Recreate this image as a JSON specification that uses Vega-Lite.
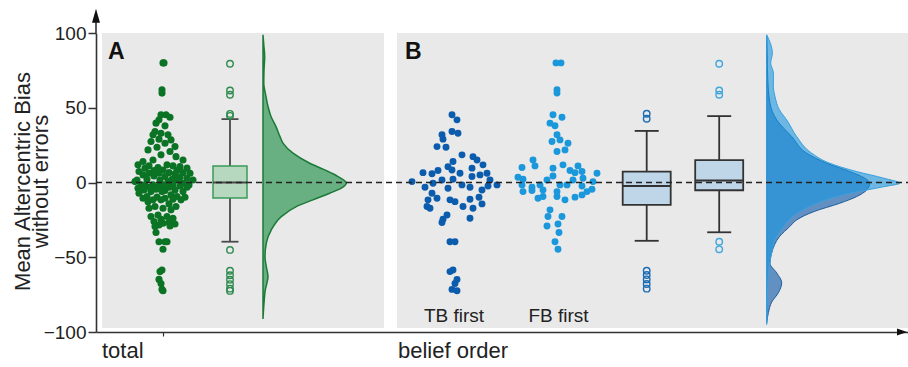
{
  "$schema": "https://vega.github.io/schema/vega-lite/v6.json",
  "width": 812,
  "height": 299,
  "autosize": {"type": "none"},
  "padding": {"left": 96, "top": 33, "right": 0, "bottom": 35},
  "background": "white",
  "config": {
    "view": {"stroke": null},
    "axis": {"grid": false, "labelFont": "Liberation Sans", "titleFont": "Liberation Sans"},
    "text": {"font": "Liberation Sans"}
  },
  "resolve": {"scale": {"x": "independent"}, "axis": {"x": "independent", "y": "independent"}},
  "datasets": {
    "pts": [
      {"g":"total","dx":0,"v":80},{"g":"total","dx":1,"v":80},{"g":"total","dx":-1,"v":62},{"g":"total","dx":-1,"v":59.8},{"g":"total","dx":-2,"v":45.3},{"g":"total","dx":3,"v":45.3},{"g":"total","dx":7,"v":43.7},{"g":"total","dx":-4,"v":41.9},{"g":"total","dx":-7,"v":39.7},{"g":"total","dx":2,"v":37.9},{"g":"total","dx":-8,"v":34.1},{"g":"total","dx":-2,"v":33},{"g":"total","dx":5,"v":31.9},{"g":"total","dx":-10,"v":31.9},{"g":"total","dx":-4,"v":29},{"g":"total","dx":8,"v":28.5},{"g":"total","dx":-12,"v":27.4},{"g":"total","dx":2,"v":26.3},{"g":"total","dx":12,"v":24},{"g":"total","dx":-6,"v":23.6},{"g":"total","dx":-15,"v":21.8},{"g":"total","dx":7,"v":20.7},{"g":"total","dx":-2,"v":18.5},{"g":"total","dx":13,"v":17.3},{"g":"total","dx":-10,"v":15.1},{"g":"total","dx":20,"v":15.1},{"g":"total","dx":-20,"v":14},{"g":"total","dx":4,"v":11.8},{"g":"total","dx":-25,"v":11.8},{"g":"total","dx":10,"v":11.1},{"g":"total","dx":-14,"v":11.1},{"g":"total","dx":17,"v":10.6},{"g":"total","dx":-5,"v":10},{"g":"total","dx":24,"v":9.6},{"g":"total","dx":-18,"v":9.6},{"g":"total","dx":0,"v":8.4},{"g":"total","dx":-9,"v":8},{"g":"total","dx":14,"v":8},{"g":"total","dx":-24,"v":7.3},{"g":"total","dx":6,"v":6.6},{"g":"total","dx":20,"v":6.6},{"g":"total","dx":-14,"v":6.2},{"g":"total","dx":27,"v":6.2},{"g":"total","dx":-4,"v":6.2},{"g":"total","dx":12,"v":5.8},{"g":"total","dx":-20,"v":5.1},{"g":"total","dx":2,"v":4},{"g":"total","dx":-9,"v":4.4},{"g":"total","dx":17,"v":3.5},{"g":"total","dx":24,"v":2.9},{"g":"total","dx":-16,"v":2.2},{"g":"total","dx":9,"v":2.2},{"g":"total","dx":-26,"v":1.7},{"g":"total","dx":30,"v":1.7},{"g":"total","dx":-3,"v":1.7},{"g":"total","dx":14,"v":1.7},{"g":"total","dx":-28,"v":0.6},{"g":"total","dx":5,"v":0.6},{"g":"total","dx":20,"v":-0.5},{"g":"total","dx":-22,"v":-1.6},{"g":"total","dx":-10,"v":-1.6},{"g":"total","dx":0,"v":-1.6},{"g":"total","dx":10,"v":-1.6},{"g":"total","dx":26,"v":-1.6},{"g":"total","dx":-18,"v":-1.6},{"g":"total","dx":-4,"v":-2.3},{"g":"total","dx":17,"v":-2.3},{"g":"total","dx":-13,"v":-3.2},{"g":"total","dx":6,"v":-3.2},{"g":"total","dx":24,"v":-3.2},{"g":"total","dx":-25,"v":-3.8},{"g":"total","dx":-7,"v":-4.5},{"g":"total","dx":12,"v":-5},{"g":"total","dx":-19,"v":-5},{"g":"total","dx":2,"v":-5.4},{"g":"total","dx":-12,"v":-6.1},{"g":"total","dx":20,"v":-6.1},{"g":"total","dx":-1,"v":-6.1},{"g":"total","dx":-24,"v":-7.2},{"g":"total","dx":8,"v":-8.3},{"g":"total","dx":-16,"v":-9.4},{"g":"total","dx":14,"v":-9.4},{"g":"total","dx":-6,"v":-9.8},{"g":"total","dx":22,"v":-9.9},{"g":"total","dx":2,"v":-10.5},{"g":"total","dx":-20,"v":-10.5},{"g":"total","dx":10,"v":-11.2},{"g":"total","dx":-10,"v":-11.6},{"g":"total","dx":18,"v":-11.6},{"g":"total","dx":-2,"v":-11.6},{"g":"total","dx":-15,"v":-12.8},{"g":"total","dx":6,"v":-14.3},{"g":"total","dx":-8,"v":-16.1},{"g":"total","dx":13,"v":-16.1},{"g":"total","dx":-14,"v":-17.2},{"g":"total","dx":0,"v":-17.2},{"g":"total","dx":8,"v":-18.3},{"g":"total","dx":-5,"v":-21.7},{"g":"total","dx":4,"v":-22.8},{"g":"total","dx":-12,"v":-22.8},{"g":"total","dx":10,"v":-23.9},{"g":"total","dx":-2,"v":-24.6},{"g":"total","dx":-9,"v":-26.1},{"g":"total","dx":6,"v":-26.8},{"g":"total","dx":0,"v":-27.3},{"g":"total","dx":12,"v":-27.7},{"g":"total","dx":-4,"v":-28.4},{"g":"total","dx":7,"v":-29.1},{"g":"total","dx":-8,"v":-29.5},{"g":"total","dx":-7,"v":-33.5},{"g":"total","dx":-4,"v":-39.6},{"g":"total","dx":2,"v":-39.6},{"g":"total","dx":4,"v":-39.6},{"g":"total","dx":0,"v":-44.7},{"g":"total","dx":-1,"v":-58.5},{"g":"total","dx":-3,"v":-59.6},{"g":"total","dx":-4,"v":-64.8},{"g":"total","dx":-2,"v":-67.5},{"g":"total","dx":-1,"v":-71.5},{"g":"total","dx":0,"v":-72.4},
      {"g":"TB","dx":-1,"v":45.3},{"g":"TB","dx":4,"v":41.9},{"g":"TB","dx":-1,"v":34.1},{"g":"TB","dx":5,"v":33},{"g":"TB","dx":-11,"v":31.9},{"g":"TB","dx":-10,"v":29},{"g":"TB","dx":-16,"v":24},{"g":"TB","dx":-7,"v":23.6},{"g":"TB","dx":9,"v":18.5},{"g":"TB","dx":20,"v":17.3},{"g":"TB","dx":24,"v":15.1},{"g":"TB","dx":0,"v":14},{"g":"TB","dx":30,"v":11.8},{"g":"TB","dx":-5,"v":10.6},{"g":"TB","dx":-15,"v":8},{"g":"TB","dx":-1,"v":8.4},{"g":"TB","dx":19,"v":9.6},{"g":"TB","dx":-30,"v":6.6},{"g":"TB","dx":-21,"v":5.8},{"g":"TB","dx":7,"v":6.2},{"g":"TB","dx":27,"v":5.1},{"g":"TB","dx":34,"v":6.2},{"g":"TB","dx":19,"v":4},{"g":"TB","dx":-11,"v":1.7},{"g":"TB","dx":0,"v":2.2},{"g":"TB","dx":-41,"v":0.6},{"g":"TB","dx":37,"v":1.7},{"g":"TB","dx":44,"v":-1.6},{"g":"TB","dx":-20,"v":-0.5},{"g":"TB","dx":-28,"v":-3.2},{"g":"TB","dx":-5,"v":-3.8},{"g":"TB","dx":9,"v":-1.6},{"g":"TB","dx":17,"v":-3.2},{"g":"TB","dx":35,"v":-2.3},{"g":"TB","dx":29,"v":-5},{"g":"TB","dx":-21,"v":-7.2},{"g":"TB","dx":-25,"v":-11.6},{"g":"TB","dx":-16,"v":-10.5},{"g":"TB","dx":-3,"v":-11.6},{"g":"TB","dx":2,"v":-12.8},{"g":"TB","dx":17,"v":-11.2},{"g":"TB","dx":26,"v":-9.9},{"g":"TB","dx":-26,"v":-16.1},{"g":"TB","dx":-23,"v":-17.2},{"g":"TB","dx":10,"v":-16.1},{"g":"TB","dx":20,"v":-17.2},{"g":"TB","dx":29,"v":-14.3},{"g":"TB","dx":-6,"v":-21.7},{"g":"TB","dx":17,"v":-23.9},{"g":"TB","dx":-11,"v":-26.8},{"g":"TB","dx":-10,"v":-24.6},{"g":"TB","dx":-3,"v":-39.6},{"g":"TB","dx":2,"v":-39.6},{"g":"TB","dx":-3,"v":-59.6},{"g":"TB","dx":0,"v":-58.5},{"g":"TB","dx":4,"v":-64.8},{"g":"TB","dx":2,"v":-67.5},{"g":"TB","dx":-1,"v":-71.5},{"g":"TB","dx":4,"v":-72.4},
      {"g":"FB","dx":-2,"v":80},{"g":"FB","dx":3,"v":80},{"g":"FB","dx":-1,"v":62},{"g":"FB","dx":-1,"v":59.8},{"g":"FB","dx":-5,"v":45.3},{"g":"FB","dx":4,"v":43.7},{"g":"FB","dx":-8,"v":39.7},{"g":"FB","dx":-3,"v":37.9},{"g":"FB","dx":-1,"v":31.9},{"g":"FB","dx":-6,"v":27.4},{"g":"FB","dx":2,"v":28.5},{"g":"FB","dx":10,"v":26.3},{"g":"FB","dx":-1,"v":20.7},{"g":"FB","dx":7,"v":21.8},{"g":"FB","dx":-25,"v":15.1},{"g":"FB","dx":-23,"v":11.1},{"g":"FB","dx":-36,"v":10},{"g":"FB","dx":-5,"v":9.6},{"g":"FB","dx":5,"v":11.8},{"g":"FB","dx":20,"v":11.1},{"g":"FB","dx":12,"v":8},{"g":"FB","dx":17,"v":6.6},{"g":"FB","dx":24,"v":7.3},{"g":"FB","dx":39,"v":6.2},{"g":"FB","dx":-40,"v":3.5},{"g":"FB","dx":-35,"v":2.2},{"g":"FB","dx":-11,"v":1.7},{"g":"FB","dx":-5,"v":4.4},{"g":"FB","dx":15,"v":1.7},{"g":"FB","dx":25,"v":2.9},{"g":"FB","dx":35,"v":0.6},{"g":"FB","dx":-36,"v":-1.6},{"g":"FB","dx":-26,"v":-3.2},{"g":"FB","dx":-18,"v":-1.6},{"g":"FB","dx":2,"v":-1.6},{"g":"FB","dx":9,"v":-1.6},{"g":"FB","dx":24,"v":-2.3},{"g":"FB","dx":34,"v":-4.5},{"g":"FB","dx":-35,"v":-6.1},{"g":"FB","dx":-26,"v":-5.4},{"g":"FB","dx":-15,"v":-5},{"g":"FB","dx":-1,"v":-6.1},{"g":"FB","dx":29,"v":-6.1},{"g":"FB","dx":24,"v":-8.3},{"g":"FB","dx":17,"v":-9.8},{"g":"FB","dx":-20,"v":-10.5},{"g":"FB","dx":-15,"v":-9.4},{"g":"FB","dx":-1,"v":-9.4},{"g":"FB","dx":7,"v":-11.6},{"g":"FB","dx":-8,"v":-18.3},{"g":"FB","dx":-10,"v":-22.8},{"g":"FB","dx":4,"v":-22.8},{"g":"FB","dx":-11,"v":-29.1},{"g":"FB","dx":0,"v":-27.7},{"g":"FB","dx":1,"v":-33.5},{"g":"FB","dx":-3,"v":-39.6},{"g":"FB","dx":0,"v":-44.7}
    ],
    "box": [
      {"g":"total","lo":-39.6,"q1":-10.4,"med":0,"q3":11,"hi":42.4},
      {"g":"TB","lo":-39,"q1":-15,"med":-2.3,"q3":7.3,"hi":34.5},
      {"g":"FB","lo":-33.3,"q1":-5.2,"med":1.3,"q3":14.9,"hi":44.4}
    ],
    "out": [
      {"g":"total","v":79.4},{"g":"total","v":61.5},{"g":"total","v":58.7},{"g":"total","v":45.9},{"g":"total","v":44.6},{"g":"total","v":-45.1},{"g":"total","v":-59},{"g":"total","v":-62},{"g":"total","v":-65},{"g":"total","v":-68},{"g":"total","v":-71},{"g":"total","v":-72.5},
      {"g":"TB","v":46},{"g":"TB","v":42.6},{"g":"TB","v":-59},{"g":"TB","v":-61.9},{"g":"TB","v":-64.8},{"g":"TB","v":-67.9},{"g":"TB","v":-71},
      {"g":"FB","v":79.4},{"g":"FB","v":61.5},{"g":"FB","v":58.7},{"g":"FB","v":-39.6},{"g":"FB","v":-44.7}
    ],
    "dens": [
      {"g":"total","v":98.8,"d":0},{"g":"total","v":92,"d":0.8},{"g":"total","v":84.3,"d":1.7},{"g":"total","v":75,"d":1},{"g":"total","v":66.5,"d":0.8},{"g":"total","v":57.5,"d":3},{"g":"total","v":50.8,"d":5},{"g":"total","v":44.1,"d":8},{"g":"total","v":37.4,"d":13},{"g":"total","v":30.7,"d":17},{"g":"total","v":26.3,"d":20},{"g":"total","v":19.6,"d":30},{"g":"total","v":12.9,"d":46.7},{"g":"total","v":8.4,"d":61.7},{"g":"total","v":4,"d":75},{"g":"total","v":-0.3,"d":83.3},{"g":"total","v":-3.8,"d":78.3},{"g":"total","v":-7.2,"d":66.7},{"g":"total","v":-11.6,"d":50},{"g":"total","v":-16.1,"d":33.3},{"g":"total","v":-22.8,"d":18.3},{"g":"total","v":-31.7,"d":8.3},{"g":"total","v":-40.6,"d":3.3},{"g":"total","v":-49.6,"d":2},{"g":"total","v":-56.3,"d":3.3},{"g":"total","v":-63,"d":5},{"g":"total","v":-67,"d":4},{"g":"total","v":-71.9,"d":2.3},{"g":"total","v":-80.8,"d":1},{"g":"total","v":-91.3,"d":0},
      {"g":"TB","v":97.5,"d":0},{"g":"TB","v":85,"d":0.5},{"g":"TB","v":70,"d":1},{"g":"TB","v":53,"d":3.3},{"g":"TB","v":41.9,"d":10},{"g":"TB","v":30.7,"d":25},{"g":"TB","v":19.6,"d":40},{"g":"TB","v":12.9,"d":60},{"g":"TB","v":7.3,"d":83},{"g":"TB","v":2.9,"d":98},{"g":"TB","v":-0.5,"d":103},{"g":"TB","v":-5,"d":100},{"g":"TB","v":-9.4,"d":90},{"g":"TB","v":-13.9,"d":73},{"g":"TB","v":-19.5,"d":47},{"g":"TB","v":-25,"d":30},{"g":"TB","v":-29.5,"d":23},{"g":"TB","v":-36,"d":13},{"g":"TB","v":-47,"d":5},{"g":"TB","v":-54,"d":3.3},{"g":"TB","v":-60.5,"d":10},{"g":"TB","v":-67,"d":15},{"g":"TB","v":-73.7,"d":11.7},{"g":"TB","v":-80,"d":5},{"g":"TB","v":-87,"d":1.7},{"g":"TB","v":-93.7,"d":0},
      {"g":"FB","v":98.8,"d":0},{"g":"FB","v":86.6,"d":5.7},{"g":"FB","v":79.9,"d":4},{"g":"FB","v":73.2,"d":6.7},{"g":"FB","v":64.2,"d":6.7},{"g":"FB","v":57.5,"d":8.3},{"g":"FB","v":48.6,"d":12.7},{"g":"FB","v":41.9,"d":20},{"g":"FB","v":30.7,"d":30},{"g":"FB","v":19.6,"d":45},{"g":"FB","v":12.9,"d":63},{"g":"FB","v":7.3,"d":90},{"g":"FB","v":2.9,"d":117},{"g":"FB","v":-0.5,"d":133},{"g":"FB","v":-2.7,"d":118},{"g":"FB","v":-5,"d":100},{"g":"FB","v":-7.2,"d":83},{"g":"FB","v":-9.4,"d":70},{"g":"FB","v":-13.9,"d":50},{"g":"FB","v":-19.5,"d":33},{"g":"FB","v":-25,"d":22},{"g":"FB","v":-29.5,"d":17},{"g":"FB","v":-36,"d":10},{"g":"FB","v":-47,"d":5},{"g":"FB","v":-55,"d":2.7},{"g":"FB","v":-70,"d":1},{"g":"FB","v":-85,"d":0.5},{"g":"FB","v":-95,"d":0}
    ]
  },
  "layer": [
    {
      "data": {"values": [{}]},
      "mark": {"type": "rect", "fill": "#e9e9e9"},
      "encoding": {
        "x": {"datum": 6, "type": "quantitative", "scale": {"domain": [0, 812], "nice": false, "zero": false},
              "axis": {"values": [67], "labels": false, "title": null, "domainColor": "#333", "domainWidth": 1.6, "tickColor": "#333", "tickSize": 4, "tickWidth": 1.2}},
        "x2": {"datum": 288},
        "y": {"datum": 100, "type": "quantitative", "scale": {"domain": [-100, 100], "nice": false, "zero": false},
              "axis": {"values": [-100, -50, 0, 50, 100], "title": ["Mean Altercentric Bias", "without errors"],
                       "labelFontSize": 19, "labelColor": "#222", "labelPadding": 2, "tickSize": 8, "tickColor": "#333", "tickWidth": 1.5,
                       "domainColor": "#333", "domainWidth": 1.6, "titleFontSize": 22, "titleFontWeight": "normal", "titleColor": "#222",
                       "titleLineHeight": 18, "titleX": -74, "titleY": 148, "titleBaseline": "middle", "titleAlign": "center", "titleAngle": -90}},
        "y2": {"datum": -97.4}
      }
    },
    {
      "data": {"values": [{}]},
      "mark": {"type": "rect", "fill": "#e9e9e9"},
      "encoding": {
        "x": {"datum": 301, "type": "quantitative", "scale": {"domain": [0, 812], "nice": false, "zero": false}, "axis": null},
        "x2": {"datum": 812},
        "y": {"datum": 100, "type": "quantitative", "scale": {"domain": [-100, 100], "nice": false, "zero": false}, "axis": null},
        "y2": {"datum": -97.4}
      }
    },
    {
      "data": {"name": "dens"},
      "transform": [{"filter": {"field": "g", "equal": "total"}}],
      "mark": {"type": "area", "orient": "horizontal", "interpolate": "monotone", "fill": "#128a3c", "fillOpacity": 0.6, "stroke": "#1b7a37", "strokeWidth": 1.5},
      "encoding": {
        "y": {"field": "v", "type": "quantitative", "scale": {"domain": [-100, 100], "nice": false, "zero": false}, "axis": null},
        "x": {"field": "d", "type": "quantitative", "stack": null, "scale": {"domain": [-167, 645], "nice": false, "zero": false}, "axis": null},
        "x2": {"datum": 0}
      }
    },
    {
      "data": {"name": "dens"},
      "transform": [{"filter": {"field": "g", "equal": "TB"}}],
      "mark": {"type": "area", "orient": "horizontal", "interpolate": "monotone", "fill": "#0a55a8", "fillOpacity": 0.6, "stroke": "#1a5c9c", "strokeWidth": 1},
      "encoding": {
        "y": {"field": "v", "type": "quantitative", "scale": {"domain": [-100, 100], "nice": false, "zero": false}, "axis": null},
        "x": {"field": "d", "type": "quantitative", "stack": null, "scale": {"domain": [-670.7, 141.3], "nice": false, "zero": false}, "axis": null},
        "x2": {"datum": 0}
      }
    },
    {
      "data": {"name": "dens"},
      "transform": [{"filter": {"field": "g", "equal": "FB"}}],
      "mark": {"type": "area", "orient": "horizontal", "interpolate": "monotone", "fill": "#1996e0", "fillOpacity": 0.6, "stroke": "#3aa0de", "strokeWidth": 1},
      "encoding": {
        "y": {"field": "v", "type": "quantitative", "scale": {"domain": [-100, 100], "nice": false, "zero": false}, "axis": null},
        "x": {"field": "d", "type": "quantitative", "stack": null, "scale": {"domain": [-670.7, 141.3], "nice": false, "zero": false}, "axis": null},
        "x2": {"datum": 0}
      }
    },
    {
      "data": {"name": "pts"},
      "transform": [{"filter": {"field": "g", "equal": "total"}}],
      "mark": {"type": "circle", "size": 50, "opacity": 1, "color": "#0b7324"},
      "encoding": {
        "x": {"field": "dx", "type": "quantitative", "scale": {"domain": [-67, 745], "nice": false, "zero": false}, "axis": null},
        "y": {"field": "v", "type": "quantitative", "scale": {"domain": [-100, 100], "nice": false, "zero": false}, "axis": null}
      }
    },
    {
      "data": {"name": "pts"},
      "transform": [{"filter": {"field": "g", "equal": "TB"}}],
      "mark": {"type": "circle", "size": 48, "opacity": 1, "color": "#0c5cae"},
      "encoding": {
        "x": {"field": "dx", "type": "quantitative", "scale": {"domain": [-357, 455], "nice": false, "zero": false}, "axis": null},
        "y": {"field": "v", "type": "quantitative", "scale": {"domain": [-100, 100], "nice": false, "zero": false}, "axis": null}
      }
    },
    {
      "data": {"name": "pts"},
      "transform": [{"filter": {"field": "g", "equal": "FB"}}],
      "mark": {"type": "circle", "size": 48, "opacity": 1, "color": "#1b98dc"},
      "encoding": {
        "x": {"field": "dx", "type": "quantitative", "scale": {"domain": [-462, 350], "nice": false, "zero": false}, "axis": null},
        "y": {"field": "v", "type": "quantitative", "scale": {"domain": [-100, 100], "nice": false, "zero": false}, "axis": null}
      }
    },
    {
      "data": {"name": "box"},
      "transform": [{"filter": {"field": "g", "equal": "total"}}],
      "mark": {"type": "rule", "color": "#4a4a4a", "strokeWidth": 1.8},
      "encoding": {
        "x": {"datum": 134, "type": "quantitative", "scale": {"domain": [0, 812], "nice": false, "zero": false}, "axis": null},
        "y": {"field": "lo", "type": "quantitative", "scale": {"domain": [-100, 100], "nice": false, "zero": false}, "axis": null},
        "y2": {"field": "hi"}
      }
    },
    {
      "data": {"name": "box"},
      "transform": [{"filter": {"field": "g", "equal": "total"}}, {"fold": ["lo", "hi"], "as": ["k", "cv"]}],
      "mark": {"type": "rule", "color": "#4a4a4a", "strokeWidth": 1.8},
      "encoding": {
        "x": {"datum": 125.5, "type": "quantitative", "scale": {"domain": [0, 812], "nice": false, "zero": false}, "axis": null},
        "x2": {"datum": 142.5},
        "y": {"field": "cv", "type": "quantitative", "scale": {"domain": [-100, 100], "nice": false, "zero": false}, "axis": null}
      }
    },
    {
      "data": {"name": "box"},
      "transform": [{"filter": {"field": "g", "equal": "total"}}],
      "mark": {"type": "rect", "fill": "#b6d8bf", "stroke": "#3a9a5a", "strokeWidth": 1.5},
      "encoding": {
        "x": {"datum": 117, "type": "quantitative", "scale": {"domain": [0, 812], "nice": false, "zero": false}, "axis": null},
        "x2": {"datum": 151},
        "y": {"field": "q3", "type": "quantitative", "scale": {"domain": [-100, 100], "nice": false, "zero": false}, "axis": null},
        "y2": {"field": "q1"}
      }
    },
    {
      "data": {"name": "box"},
      "transform": [{"filter": {"field": "g", "equal": "total"}}],
      "mark": {"type": "rule", "color": "#4a4a4a", "strokeWidth": 2},
      "encoding": {
        "x": {"datum": 117, "type": "quantitative", "scale": {"domain": [0, 812], "nice": false, "zero": false}, "axis": null},
        "x2": {"datum": 151},
        "y": {"field": "med", "type": "quantitative", "scale": {"domain": [-100, 100], "nice": false, "zero": false}, "axis": null}
      }
    },
    {
      "data": {"name": "out"},
      "transform": [{"filter": {"field": "g", "equal": "total"}}],
      "mark": {"type": "point", "filled": false, "size": 42, "strokeWidth": 1.4, "color": "#2e8b4e", "opacity": 1},
      "encoding": {
        "x": {"datum": 134, "type": "quantitative", "scale": {"domain": [0, 812], "nice": false, "zero": false}, "axis": null},
        "y": {"field": "v", "type": "quantitative", "scale": {"domain": [-100, 100], "nice": false, "zero": false}, "axis": null}
      }
    },
    {
      "data": {"name": "box"},
      "transform": [{"filter": {"field": "g", "equal": "TB"}}],
      "mark": {"type": "rule", "color": "#333", "strokeWidth": 1.8},
      "encoding": {
        "x": {"datum": 550.7, "type": "quantitative", "scale": {"domain": [0, 812], "nice": false, "zero": false}, "axis": null},
        "y": {"field": "lo", "type": "quantitative", "scale": {"domain": [-100, 100], "nice": false, "zero": false}, "axis": null},
        "y2": {"field": "hi"}
      }
    },
    {
      "data": {"name": "box"},
      "transform": [{"filter": {"field": "g", "equal": "TB"}}, {"fold": ["lo", "hi"], "as": ["k", "cv"]}],
      "mark": {"type": "rule", "color": "#333", "strokeWidth": 1.8},
      "encoding": {
        "x": {"datum": 538.7, "type": "quantitative", "scale": {"domain": [0, 812], "nice": false, "zero": false}, "axis": null},
        "x2": {"datum": 562.7},
        "y": {"field": "cv", "type": "quantitative", "scale": {"domain": [-100, 100], "nice": false, "zero": false}, "axis": null}
      }
    },
    {
      "data": {"name": "box"},
      "transform": [{"filter": {"field": "g", "equal": "TB"}}],
      "mark": {"type": "rect", "fill": "#bfd5e8", "stroke": "#333", "strokeWidth": 1.8},
      "encoding": {
        "x": {"datum": 526.7, "type": "quantitative", "scale": {"domain": [0, 812], "nice": false, "zero": false}, "axis": null},
        "x2": {"datum": 574.7},
        "y": {"field": "q3", "type": "quantitative", "scale": {"domain": [-100, 100], "nice": false, "zero": false}, "axis": null},
        "y2": {"field": "q1"}
      }
    },
    {
      "data": {"name": "box"},
      "transform": [{"filter": {"field": "g", "equal": "TB"}}],
      "mark": {"type": "rule", "color": "#333", "strokeWidth": 2},
      "encoding": {
        "x": {"datum": 526.7, "type": "quantitative", "scale": {"domain": [0, 812], "nice": false, "zero": false}, "axis": null},
        "x2": {"datum": 574.7},
        "y": {"field": "med", "type": "quantitative", "scale": {"domain": [-100, 100], "nice": false, "zero": false}, "axis": null}
      }
    },
    {
      "data": {"name": "out"},
      "transform": [{"filter": {"field": "g", "equal": "TB"}}],
      "mark": {"type": "point", "filled": false, "size": 42, "strokeWidth": 1.4, "color": "#1a6cb4", "opacity": 1},
      "encoding": {
        "x": {"datum": 550.7, "type": "quantitative", "scale": {"domain": [0, 812], "nice": false, "zero": false}, "axis": null},
        "y": {"field": "v", "type": "quantitative", "scale": {"domain": [-100, 100], "nice": false, "zero": false}, "axis": null}
      }
    },
    {
      "data": {"name": "box"},
      "transform": [{"filter": {"field": "g", "equal": "FB"}}],
      "mark": {"type": "rule", "color": "#333", "strokeWidth": 1.8},
      "encoding": {
        "x": {"datum": 623.2, "type": "quantitative", "scale": {"domain": [0, 812], "nice": false, "zero": false}, "axis": null},
        "y": {"field": "lo", "type": "quantitative", "scale": {"domain": [-100, 100], "nice": false, "zero": false}, "axis": null},
        "y2": {"field": "hi"}
      }
    },
    {
      "data": {"name": "box"},
      "transform": [{"filter": {"field": "g", "equal": "FB"}}, {"fold": ["lo", "hi"], "as": ["k", "cv"]}],
      "mark": {"type": "rule", "color": "#333", "strokeWidth": 1.8},
      "encoding": {
        "x": {"datum": 611.2, "type": "quantitative", "scale": {"domain": [0, 812], "nice": false, "zero": false}, "axis": null},
        "x2": {"datum": 635.2},
        "y": {"field": "cv", "type": "quantitative", "scale": {"domain": [-100, 100], "nice": false, "zero": false}, "axis": null}
      }
    },
    {
      "data": {"name": "box"},
      "transform": [{"filter": {"field": "g", "equal": "FB"}}],
      "mark": {"type": "rect", "fill": "#bfd5e8", "stroke": "#333", "strokeWidth": 1.8},
      "encoding": {
        "x": {"datum": 599.2, "type": "quantitative", "scale": {"domain": [0, 812], "nice": false, "zero": false}, "axis": null},
        "x2": {"datum": 647.2},
        "y": {"field": "q3", "type": "quantitative", "scale": {"domain": [-100, 100], "nice": false, "zero": false}, "axis": null},
        "y2": {"field": "q1"}
      }
    },
    {
      "data": {"name": "box"},
      "transform": [{"filter": {"field": "g", "equal": "FB"}}],
      "mark": {"type": "rule", "color": "#333", "strokeWidth": 2},
      "encoding": {
        "x": {"datum": 599.2, "type": "quantitative", "scale": {"domain": [0, 812], "nice": false, "zero": false}, "axis": null},
        "x2": {"datum": 647.2},
        "y": {"field": "med", "type": "quantitative", "scale": {"domain": [-100, 100], "nice": false, "zero": false}, "axis": null}
      }
    },
    {
      "data": {"name": "out"},
      "transform": [{"filter": {"field": "g", "equal": "FB"}}],
      "mark": {"type": "point", "filled": false, "size": 42, "strokeWidth": 1.4, "color": "#3fa6dc", "opacity": 1},
      "encoding": {
        "x": {"datum": 623.2, "type": "quantitative", "scale": {"domain": [0, 812], "nice": false, "zero": false}, "axis": null},
        "y": {"field": "v", "type": "quantitative", "scale": {"domain": [-100, 100], "nice": false, "zero": false}, "axis": null}
      }
    },
    {
      "data": {"values": [{}]},
      "mark": {"type": "rule", "strokeDash": [6, 4], "color": "#222", "strokeWidth": 1.6},
      "encoding": {
        "x": {"datum": 0, "type": "quantitative", "scale": {"domain": [0, 812], "nice": false, "zero": false}, "axis": null},
        "x2": {"datum": 812},
        "y": {"datum": 0, "type": "quantitative", "scale": {"domain": [-100, 100], "nice": false, "zero": false}, "axis": null}
      }
    },
    {
      "data": {"values": [{}]},
      "mark": {"type": "rule", "color": "#333", "strokeWidth": 1.6},
      "encoding": {
        "x": {"datum": 0, "type": "quantitative", "scale": {"domain": [0, 812], "nice": false, "zero": false}, "axis": null},
        "y": {"datum": 100, "type": "quantitative", "scale": {"domain": [-100, 100], "nice": false, "zero": false}, "axis": null},
        "y2": {"datum": 109}
      }
    },
    {
      "data": {"values": [{}]},
      "mark": {"type": "point", "shape": "M0,-1L0.57,1L-0.57,1Z", "size": 196, "filled": true, "color": "#111", "opacity": 1},
      "encoding": {
        "x": {"datum": 0, "type": "quantitative", "scale": {"domain": [0, 812], "nice": false, "zero": false}, "axis": null},
        "y": {"datum": 111.6, "type": "quantitative", "scale": {"domain": [-100, 100], "nice": false, "zero": false}, "axis": null}
      }
    },
    {
      "data": {"values": [{}]},
      "mark": {"type": "point", "shape": "M1,0L-1,0.7L-1,-0.7Z", "size": 100, "filled": true, "color": "#111", "opacity": 1},
      "encoding": {
        "x": {"datum": 806, "type": "quantitative", "scale": {"domain": [0, 812], "nice": false, "zero": false}, "axis": null},
        "y": {"datum": -100, "type": "quantitative", "scale": {"domain": [-100, 100], "nice": false, "zero": false}, "axis": null}
      }
    },
    {
      "data": {"values": [{}]},
      "mark": {"type": "text", "text": "A", "fontSize": 23, "fontWeight": "bold", "color": "#111", "align": "left", "baseline": "alphabetic"},
      "encoding": {
        "x": {"datum": 12, "type": "quantitative", "scale": {"domain": [0, 812], "nice": false, "zero": false}, "axis": null},
        "y": {"datum": 82.8, "type": "quantitative", "scale": {"domain": [-100, 100], "nice": false, "zero": false}, "axis": null}
      }
    },
    {
      "data": {"values": [{}]},
      "mark": {"type": "text", "text": "B", "fontSize": 23, "fontWeight": "bold", "color": "#111", "align": "left", "baseline": "alphabetic"},
      "encoding": {
        "x": {"datum": 309, "type": "quantitative", "scale": {"domain": [0, 812], "nice": false, "zero": false}, "axis": null},
        "y": {"datum": 82.8, "type": "quantitative", "scale": {"domain": [-100, 100], "nice": false, "zero": false}, "axis": null}
      }
    },
    {
      "data": {"values": [{}]},
      "mark": {"type": "text", "text": "TB first", "fontSize": 19, "color": "#222", "align": "center", "baseline": "alphabetic"},
      "encoding": {
        "x": {"datum": 358, "type": "quantitative", "scale": {"domain": [0, 812], "nice": false, "zero": false}, "axis": null},
        "y": {"datum": -93.3, "type": "quantitative", "scale": {"domain": [-100, 100], "nice": false, "zero": false}, "axis": null}
      }
    },
    {
      "data": {"values": [{}]},
      "mark": {"type": "text", "text": "FB first", "fontSize": 19, "color": "#222", "align": "center", "baseline": "alphabetic"},
      "encoding": {
        "x": {"datum": 462.5, "type": "quantitative", "scale": {"domain": [0, 812], "nice": false, "zero": false}, "axis": null},
        "y": {"datum": -93.3, "type": "quantitative", "scale": {"domain": [-100, 100], "nice": false, "zero": false}, "axis": null}
      }
    },
    {
      "data": {"values": [{}]},
      "mark": {"type": "text", "text": "total", "fontSize": 22, "color": "#222", "align": "left", "baseline": "alphabetic"},
      "encoding": {
        "x": {"datum": 6, "type": "quantitative", "scale": {"domain": [0, 812], "nice": false, "zero": false}, "axis": null},
        "y": {"datum": -117.5, "type": "quantitative", "scale": {"domain": [-100, 100], "nice": false, "zero": false}, "axis": null}
      }
    },
    {
      "data": {"values": [{}]},
      "mark": {"type": "text", "text": "belief order", "fontSize": 22, "color": "#222", "align": "left", "baseline": "alphabetic"},
      "encoding": {
        "x": {"datum": 302, "type": "quantitative", "scale": {"domain": [0, 812], "nice": false, "zero": false}, "axis": null},
        "y": {"datum": -117.5, "type": "quantitative", "scale": {"domain": [-100, 100], "nice": false, "zero": false}, "axis": null}
      }
    }
  ]
}
